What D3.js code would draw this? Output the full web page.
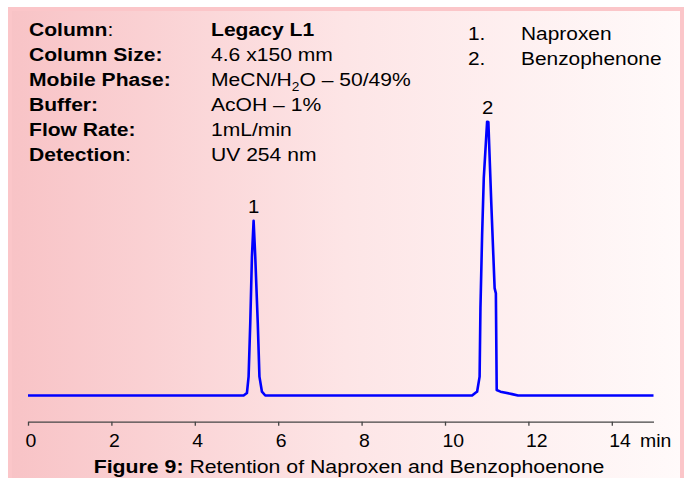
<!DOCTYPE html>
<html lang="en">
<head>
    <meta charset="UTF-8" />
    <title>Figure 9 - Retention of Naproxen and Benzophenone</title>
    <script src="https://d3js.org/d3.v7.min.js"></script>
    <style>
        body {
            margin: 0;
            background: #fff;
        }
        svg text {
            font-family: "Liberation Sans", Arial, sans-serif;
            fill: #000;
        }
    </style>
</head>
<body>
    <svg id="chart" width="689" height="478"></svg>

    <script>
        // chromatogram trace (time in min, detector response in % of tallest peak)
        const timeMin = [0, 5.17, 5.25, 5.29, 5.33, 5.37, 5.41, 5.45, 5.51, 5.55, 5.61, 5.69,
            10.65, 10.74, 10.77, 10.83, 10.85, 10.89, 10.93, 11.01, 11.04, 11.11, 11.19, 11.22,
            11.24, 11.33, 11.61, 11.75, 15];
        const response = [0, 0, 0.9, 6.9, 26.5, 50.7, 63.8, 50.6, 26.5, 6.9, 1.4, 0,
            0, 1.1, 1.4, 6.9, 32, 58.6, 79.4, 100, 99.9, 70.2, 39.2, 37.3,
            2.0, 1.4, 0.5, 0, 0];

        const xTicks = [0, 2, 4, 6, 8, 10, 12, 14];

        const peakNumbers = ["1", "2"];
        const peakTimes = [5.41, 11.02];
        const peakHeights = [63.8, 100];

        const compounds = ["Naproxen", "Benzophenone"];

        const condLabels = ["Column", "Column Size:", "Mobile Phase:", "Buffer:", "Flow Rate:", "Detection"];
        const condValues = ["Legacy L1", "4.6 x150 mm", "MeCN/H2O \u2013 50/49%", "AcOH \u2013 1%", "1mL/min", "UV 254 nm"];

        const width = 689;
        const height = 478;
        const svg = d3.select("#chart");

        // pink panel
        const defs = svg.append("defs");
        const grad = defs.append("linearGradient")
            .attr("id", "panelFill")
            .attr("x1", "0%").attr("x2", "100%")
            .attr("y1", "0%").attr("y2", "0%");
        grad.append("stop").attr("offset", "0%").attr("stop-color", "#f8c3c6");
        grad.append("stop").attr("offset", "50%").attr("stop-color", "#fde5e6");
        grad.append("stop").attr("offset", "100%").attr("stop-color", "#fffafa");

        svg.append("rect")
            .attr("x", 10)
            .attr("y", 9)
            .attr("width", 672)
            .attr("height", 480)
            .attr("fill", "url(#panelFill)")
            .attr("stroke", "#fbc6c9")
            .attr("stroke-width", 4);

        const x = d3.scaleLinear()
            .domain([0, 15])
            .range([28, 653.5]);

        const y = d3.scaleLinear()
            .domain([0, 100])
            .range([395.5, 121.7]);

        // x axis
        const axis = svg.append("g")
            .attr("transform", "translate(0,421.7)")
            .call(d3.axisBottom(x).tickValues(xTicks).tickSize(4).tickSizeOuter(0).tickFormat(""));
        axis.select(".domain").attr("stroke", "#444").attr("stroke-width", 1.3);
        axis.selectAll(".tick line").attr("stroke", "#444").attr("stroke-width", 1.3);

        const hText = (g, tx, ty, sx) => g.append("g")
            .attr("transform", `translate(${tx},${ty}) scale(${sx},1)`)
            .append("text");

        xTicks.forEach(t => {
            hText(svg, x(t) - 2.5, 446.7, 1.08)
                .attr("font-size", 18)
                .text(t);
        });
        hText(svg, 640, 446.7, 1.08).attr("font-size", 18).text("min");

        // trace
        const line = d3.line()
            .x((d, i) => x(timeMin[i]))
            .y(d => y(d));

        svg.append("path")
            .datum(response)
            .attr("d", line)
            .attr("fill", "none")
            .attr("stroke", "#0000ff")
            .attr("stroke-width", 2.6)
            .attr("stroke-linejoin", "round");

        // peak numbers
        peakNumbers.forEach((p, i) => {
            hText(svg, x(peakTimes[i]), y(peakHeights[i]) - 8, 1.1)
                .attr("font-size", 18.5)
                .attr("text-anchor", "middle")
                .text(p);
        });

        // compound list
        compounds.forEach((c, i) => {
            const ty = 40 + i * 25;
            hText(svg, 468, ty, 1.13).attr("font-size", 18.5).text((i + 1) + ".");
            hText(svg, 521, ty, 1.13).attr("font-size", 18.5).text(c);
        });

        // conditions block
        condLabels.forEach((lab, i) => {
            const ty = 36 + i * 25;
            const t = hText(svg, 29, ty, 1.14).attr("font-size", 18.5);
            if (lab.endsWith(":")) {
                t.attr("font-weight", "bold").text(lab);
            } else {
                t.append("tspan").attr("font-weight", "bold").text(lab);
                t.append("tspan").text(":");
            }

            const v = hText(svg, 211, ty, 1.14).attr("font-size", 18.5);
            if (i === 0) v.attr("font-weight", "bold");
            const val = condValues[i];
            if (val.includes("H2O")) {
                const [a, b] = val.split("H2O");
                v.append("tspan").text(a + "H");
                v.append("tspan").attr("font-size", 12).attr("dy", 5).text("2");
                v.append("tspan").attr("dy", -5).text("O" + b);
            } else {
                v.text(val);
            }
        });

        // caption
        const cap = hText(svg, 349, 473, 1.15)
            .attr("font-size", 18.5)
            .attr("text-anchor", "middle");
        cap.append("tspan").attr("font-weight", "bold").text("Figure 9:");
        cap.append("tspan").text(" Retention of Naproxen and Benzophoenone");
    </script>
</body>
</html>
